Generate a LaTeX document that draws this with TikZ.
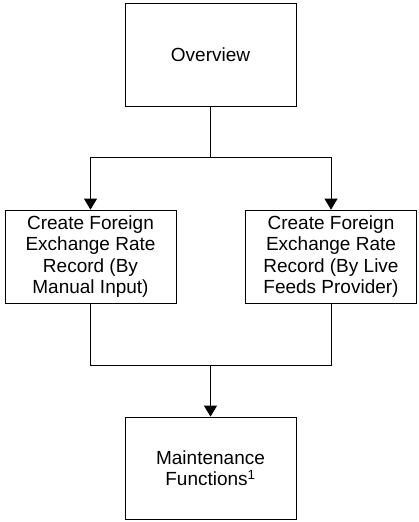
\documentclass[tikz,border=0pt]{standalone}
\usepackage{fontspec}
\setmainfont{Liberation Sans}
\usetikzlibrary{arrows.meta}

\begin{document}
\begin{tikzpicture}[x=1pt,y=-1pt,
        box/.style={draw, line width=0.8pt, minimum width=171pt, align=center,
            inner sep=2pt, font=\fontsize{19}{21.5}\selectfont},
        link/.style={draw, line width=0.8pt},
        arrow/.style={link, -{Triangle[width=13pt,length=11pt]}}]
    \useasboundingbox (0,0) rectangle (419,522);

    \node[box, minimum height=103pt] (overview) at (210.5,54.5) {Overview};
    \node[box, minimum height=93pt]  (manual)   at (90.5,256.5)
        {Create Foreign\\ Exchange Rate\\ Record (By\\ Manual Input)};
    \node[box, minimum height=93pt]  (live)     at (331,256.5)
        {Create Foreign\\ Exchange Rate\\ Record (By Live\\ Feeds Provider)};
    \node[box, minimum height=102pt] (maint)    at (210.5,468)
        {Maintenance\\ Functions\textsuperscript{1}};

    \coordinate (split) at (210.5,157);
    \coordinate (merge) at (210.5,365);

    % overview to the two record functions
    \draw[link]  (overview) -- (split);
    \draw[arrow] (split) -| (manual);
    \draw[arrow] (split) -| (live);
    % both lead to maintenance
    \draw[link]  (manual) |- (merge);
    \draw[link]  (live) |- (merge);
    \draw[arrow] (merge) -- (maint);
\end{tikzpicture}
\end{document}
